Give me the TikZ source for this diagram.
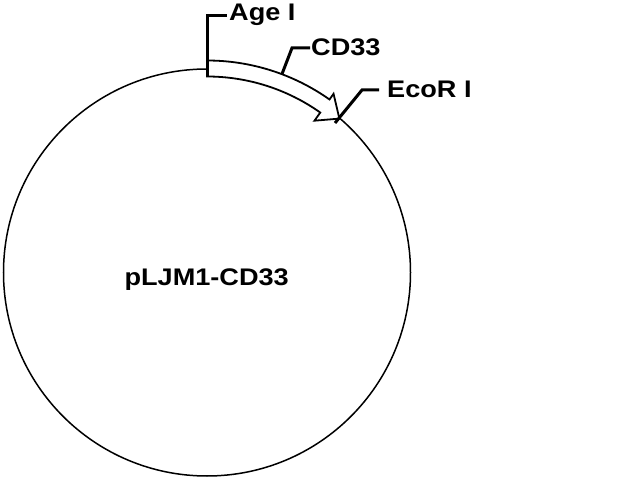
\documentclass[tikz,border=0pt]{standalone}
\usepackage{fontspec}
\setmainfont{Liberation Sans}
\usetikzlibrary{calc}
\tikzset{
  lbl/.style={anchor=base west, inner sep=0pt, font=\fontsize{24}{24}\selectfont\bfseries},
  leader/.style={line width=3pt},
  ring/.style={line width=1.5pt},
  feat/.style={line width=1.8pt, fill=white, line join=miter},
}
\newcommand{\wide}[1]{\scalebox{1.13}[1]{#1}}
\begin{document}
\begin{tikzpicture}[x=1pt,y=1pt]
\useasboundingbox (0,0) rectangle (640,480);
\coordinate (c) at (207,207.5);
\draw[ring] (c) circle[radius=203.5];
% feature arrow CD33
\draw[feat] ($(c)+(90:212)$) arc[start angle=90,end angle=54.7,radius=212]
  -- ($(c)+(54.7:219)$) -- ($(c)+(49.3:203)$) -- ($(c)+(54.7:186)$)
  -- ($(c)+(54.7:196)$) arc[start angle=54.7,end angle=90,radius=196] -- cycle;
% labels
\node[lbl] (age) at (229,459.3) {\wide{Age I}};
\node[lbl] (cd) at (311,424) {\wide{CD33}};
\node[lbl] (eco) at (387,382.7) {\wide{EcoR I}};
\node[anchor=base, inner sep=0pt, font=\fontsize{24}{24}\selectfont\bfseries] (name) at (206.7,194.3) {\wide{pLJM1-CD33}};
% leaders
\coordinate (a0) at (207,403);
\coordinate (a1) at (207,464);
\coordinate (a2) at (227,464);
\coordinate (c0) at (282,406);
\coordinate (c1) at (292,432);
\coordinate (c2) at (310,432);
\coordinate (e0) at (335,357);
\coordinate (e1) at (362,390);
\coordinate (e2) at (379,390);
\draw[leader] (a0) -- (a1) -- (a2);
\draw[leader] (c0) -- (c1) -- (c2);
\draw[leader] (e0) -- (e1) -- (e2);
\end{tikzpicture}
\end{document}
